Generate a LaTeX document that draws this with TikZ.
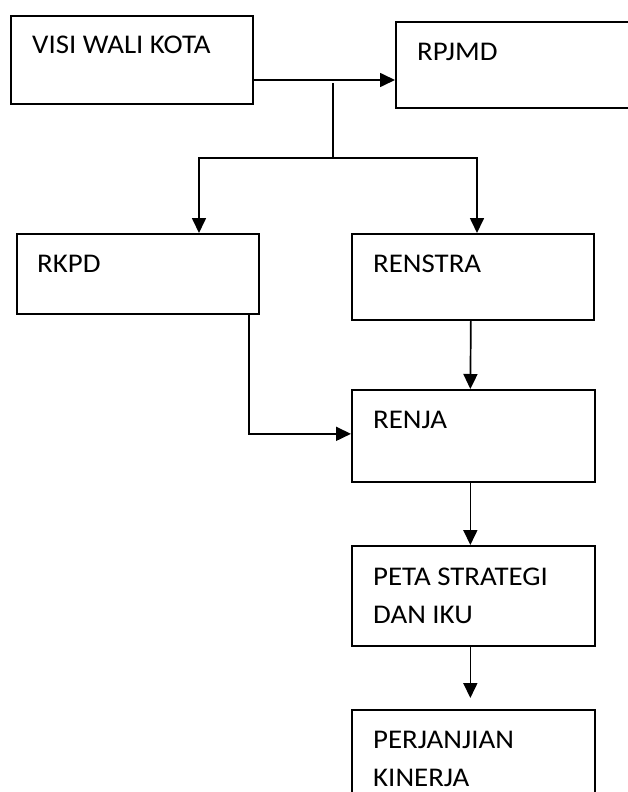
\documentclass[tikz,border=0pt]{standalone}
\usepackage{fontspec}
\setmainfont[FakeStretch=1.07]{Carlito}
\usetikzlibrary{arrows.meta,calc}
\begin{document}
\begin{tikzpicture}[x=1pt,y=1pt,
  box/.style={draw=black,line width=1.7pt,fill=white,rectangle,anchor=north west,inner sep=0pt,minimum width=242pt},
  txt/.style={anchor=base west,inner sep=0pt,font=\fontsize{27}{30}\selectfont},
  conn/.style={draw=black,line width=1.7pt},
  arr/.style={conn,-{Triangle[length=15pt,width=14pt]}}]
\useasboundingbox (0,0) rectangle (628,-792);
\clip (0,0) rectangle (628,-792);
% boxes
\node[box,minimum height=88pt] (visi) at (10,-15) {};
\node[box,minimum width=250pt,minimum height=86pt] (rpjmd) at (395,-21) {};
\node[box,minimum height=80pt] (rkpd) at (16,-233) {};
\node[box,minimum height=86pt] (renstra) at (351,-233) {};
\node[box,minimum width=243pt,minimum height=92pt] (renja) at (351,-389) {};
\node[box,minimum width=243pt,minimum height=100pt] (peta) at (351,-545) {};
\node[box,minimum width=243pt,minimum height=130pt] (perj) at (351,-709) {};
% texts
\node[txt] (visit) at ($(visi.north west)+(22,-39)$) {VISI WALI KOTA};
\node[txt] (rpjmdt) at ($(rpjmd.north west)+(22,-39)$) {RPJMD};
\node[txt] (rkpdt) at ($(rkpd.north west)+(21,-39)$) {RKPD};
\node[txt] (renstrat) at ($(renstra.north west)+(22,-39)$) {RENSTRA};
\node[txt] (renjat) at ($(renja.north west)+(22,-39)$) {RENJA};
\node[txt] (petat1) at ($(peta.north west)+(22,-40)$) {PETA STRATEGI};
\node[txt] (petat2) at ($(peta.north west)+(22,-78)$) {DAN IKU};
\node[txt] (perjt1) at ($(perj.north west)+(22,-39)$) {PERJANJIAN};
\node[txt] (perjt2) at ($(perj.north west)+(22,-77)$) {KINERJA};
% connectors
\coordinate (j1) at (333,-83);
\coordinate (j2) at (333,-158);
\draw[arr] ([yshift=-65pt]visi.north east) -- ([yshift=-59pt]rpjmd.north west);
\draw[conn] (j1) -- (j2);
\draw[arr] (j2) -| ([xshift=183pt]rkpd.north west);
\draw[arr] (j2) -| ([xshift=126pt]renstra.north west);
\draw[arr] ([xshift=-11pt]rkpd.south east) |- ([yshift=2pt]renja.west);
\draw[arr] ([xshift=-2pt]renstra.south) -- ([xshift=-3pt]renja.north);
\draw[arr] ([xshift=-3pt]renja.south) -- ([xshift=-3pt]peta.north);
\draw[arr,shorten >=11pt] ([xshift=-3pt]peta.south) -- ([xshift=-3pt]perj.north);
\end{tikzpicture}
\end{document}
